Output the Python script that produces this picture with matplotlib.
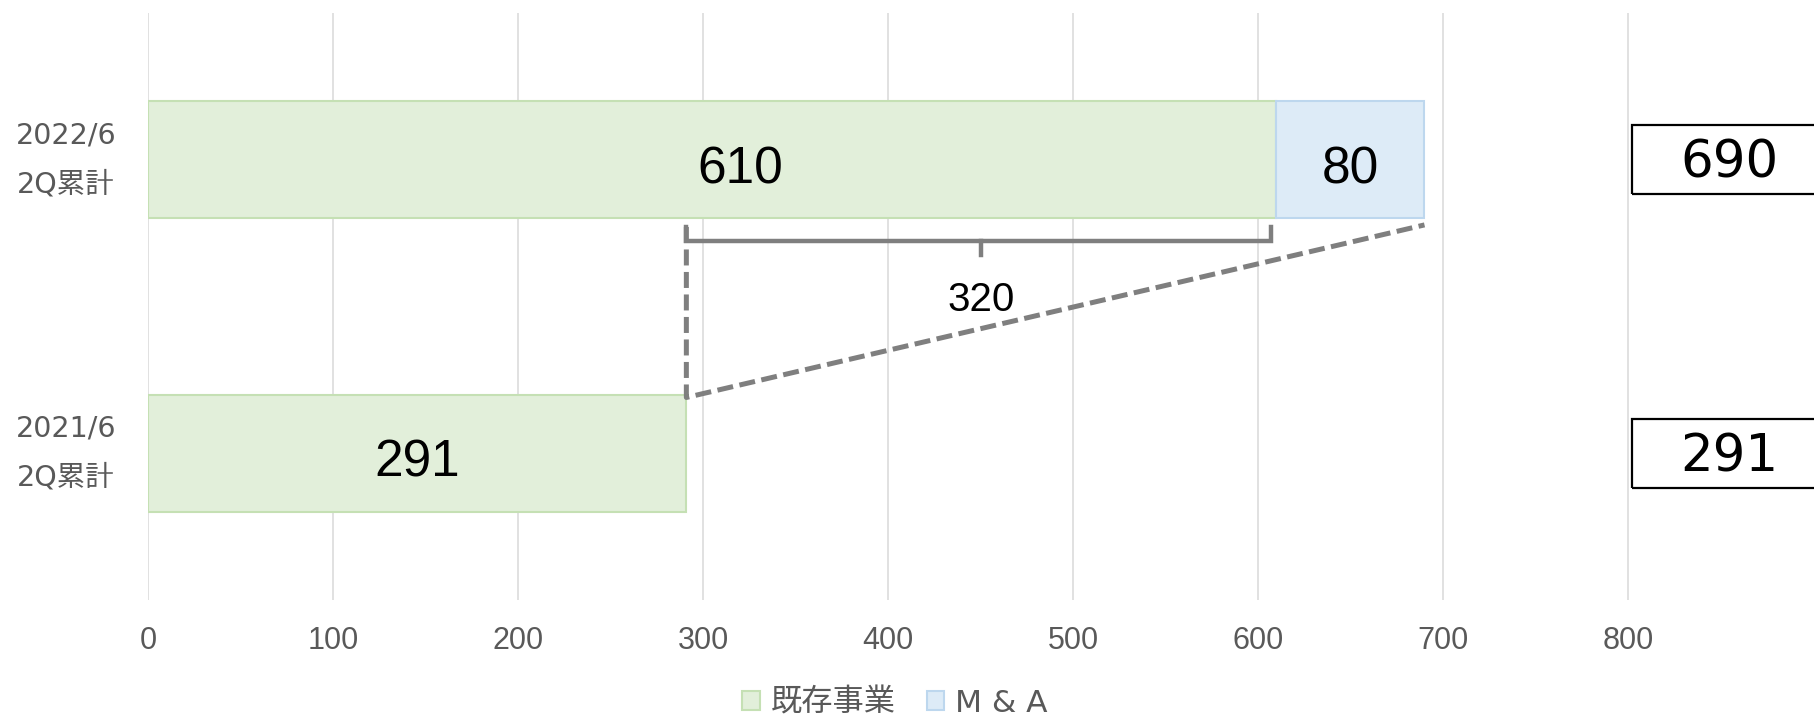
import numpy as np
import matplotlib
matplotlib.use("Agg")
import matplotlib.pyplot as plt
from matplotlib.patches import Rectangle

# data
categories = ["2021/6\n2Q累計", "2022/6\n2Q累計"]
existing = [291, 610]
ma = [0, 80]
series_names = ["既存事業", "M & A"]
growth_label = "320"
x_ticks = [0, 100, 200, 300, 400, 500, 600, 700, 800]

totals = [e + m for e, m in zip(existing, ma)]

green_fill = "#e2efda"
green_edge = "#c5e0b4"
blue_fill = "#ddebf7"
blue_edge = "#bdd7ee"
grey_txt = "#595959"
bracket_col = "#7f7f7f"

fig = plt.figure(figsize=(18.15, 7.17), dpi=100)
ax = fig.add_axes([148 / 1815, 1 - 600 / 717, 1665 / 1815, 587 / 717])

y = np.arange(len(categories))
bar_h = 0.4

b1 = ax.barh(y, existing, height=bar_h, color=green_fill, edgecolor=green_edge,
             linewidth=1.5, label=series_names[0], zorder=2)
b2 = ax.barh(y[1:], ma[1:], left=existing[1:], height=bar_h, color=blue_fill,
             edgecolor=blue_edge, linewidth=1.5, label=series_names[1], zorder=2)

ax.set_xlim(0, 900)
ax.set_ylim(-0.5, 1.5)
ax.set_xticks(x_ticks)
ax.set_yticks(y)
ax.set_yticklabels(categories, fontsize=20.5, color=grey_txt,
                   family=["DejaVu Sans", "Noto Sans CJK JP"], linespacing=1.95,
                   ha="center", va="center")
ax.tick_params(axis="y", length=0, pad=59)
ax.tick_params(axis="x", length=0, pad=19, labelsize=22, labelcolor=grey_txt)
for lab in ax.get_xticklabels():
    lab.set_family(["Liberation Sans", "DejaVu Sans"])
ax.grid(axis="x", color="#d9d9d9", linewidth=1.1, zorder=0)
ax.set_axisbelow(True)
for s in ax.spines.values():
    s.set_visible(False)

# value labels inside bars
label_shift = [0, 15]  # the 610 label sits right of bar centre in the original
for i in range(len(categories)):
    ax.annotate(str(existing[i]), (existing[i] / 2 + label_shift[i], y[i]),
                xytext=(0, -17), textcoords="offset points", ha="center",
                va="baseline", fontsize=37, family="Liberation Sans", color="black",
                zorder=5)
    if ma[i] > 0:
        ax.annotate(str(ma[i]), (existing[i] + ma[i] / 2, y[i]),
                    xytext=(0, -17), textcoords="offset points", ha="center",
                    va="baseline", fontsize=37, family="Liberation Sans",
                    color="black", zorder=5)

# total boxes on the right
for i in range(len(categories)):
    ax.add_patch(Rectangle((802, y[i] - 0.1175), 110, 0.235, fill=False,
                           edgecolor="black", linewidth=1.6, clip_on=False, zorder=5))
    ax.annotate(str(totals[i]), (855, y[i]), xytext=(0, -13),
                textcoords="offset points", ha="center", va="baseline",
                fontsize=37, family="DejaVu Sans", color="black",
                annotation_clip=False, zorder=6)

# bracket showing growth of existing business
x0, x1 = existing[0], existing[1] - 3
xm = (existing[0] + existing[1]) / 2
ax.plot([x0, x0, x1, x1], [0.771, 0.723, 0.723, 0.771], color=bracket_col,
        linewidth=3.2, solid_joinstyle="miter", zorder=4)
ax.plot([xm, xm], [0.723, 0.676], color=bracket_col, linewidth=3.2, zorder=4)
ax.text(xm, 0.483, growth_label, ha="center", va="baseline", fontsize=29,
        family="Liberation Sans", color="black", zorder=5)

# dashed connector lines
ax.plot([existing[0], existing[0], totals[1]], [0.771, 0.19, 0.778],
        color=bracket_col, linewidth=3.6, linestyle=(0, (3.2, 1.3)), zorder=4)

fig.legend(handles=[b1, b2], labels=series_names, loc="center",
           bbox_to_anchor=(895 / 1815, 1 - 703 / 717), ncol=2, frameon=False,
           prop={"family": ["DejaVu Sans", "Noto Sans CJK JP"], "size": 22.5},
           labelcolor=grey_txt, handlelength=0.55, handleheight=0.55,
           handletextpad=0.35, columnspacing=1.0, borderaxespad=0, borderpad=0)

fig.savefig("out.png", dpi=100)
